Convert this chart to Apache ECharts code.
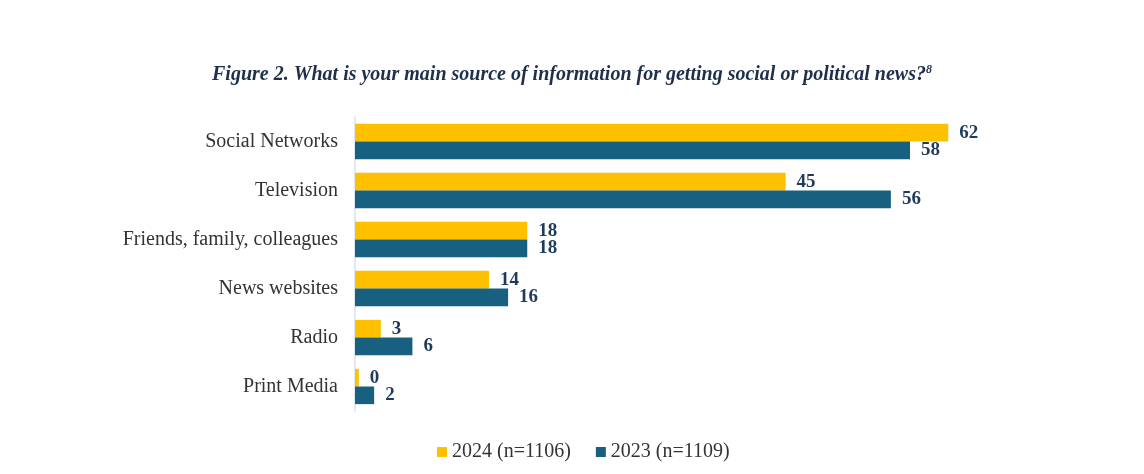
<!DOCTYPE html>
<html>
<head>
<meta charset="utf-8">
<script src="https://cdn.jsdelivr.net/npm/echarts@6/dist/echarts.min.js"></script>
<style>
html,body{margin:0;padding:0;background:#fff;}
#chart{width:1144px;height:474px;}
</style>
</head>
<body>
<div id="chart"></div>
<script>
const categories = ['Social Networks', 'Television', 'Friends, family, colleagues', 'News websites', 'Radio', 'Print Media'];
const series2024 = [62, 45, 18, 14, 2.7, 0.4];
const series2023 = [58, 56, 18, 16, 6, 2];
const seriesNames = ['2024 (n=1106)', '2023 (n=1109)'];
const titleText = 'Figure 2. What is your main source of information for getting social or political news?';
const titleSup = '8';

const serif = '"Liberation Serif", "Times New Roman", serif';
const labelStyle = {
  show: true,
  position: 'right',
  distance: 11,
  fontFamily: serif,
  fontWeight: 'bold',
  fontSize: 19,
  color: '#1f3a5c',
  formatter: p => Math.round(p.value)
};

const chart = echarts.init(document.getElementById('chart'));
chart.setOption({
  animation: false,
  title: {
    text: '{t|' + titleText + '}{s|' + titleSup + '}',
    left: 'center',
    top: 59,
    textStyle: {
      rich: {
        t: { fontFamily: serif, fontStyle: 'italic', fontWeight: 'bold', fontSize: 20, color: '#1f2f4a' },
        s: { fontFamily: serif, fontStyle: 'italic', fontWeight: 'bold', fontSize: 12, color: '#1f2f4a', verticalAlign: 'top', padding: [0, 0, 10, 0] }
      }
    }
  },
  legend: {
    bottom: 7,
    left: 432,
    itemWidth: 10,
    itemHeight: 10,
    itemGap: 25,
    icon: 'rect',
    textStyle: { fontFamily: serif, fontSize: 20, color: '#333' },
    data: seriesNames
  },
  grid: { left: 355, top: 117, width: 622, height: 294, containLabel: false },
  xAxis: {
    type: 'value', min: 0, max: 65,
    show: false
  },
  yAxis: {
    type: 'category',
    data: categories,
    inverse: true,
    axisLine: { show: true, lineStyle: { color: '#d9e2f0', width: 1.5 } },
    axisTick: { show: false },
    axisLabel: { fontFamily: serif, fontSize: 20, color: '#333', margin: 17 }
  },
  series: [
    {
      name: seriesNames[0], type: 'bar', data: series2024,
      barGap: '0%', barCategoryGap: '28%',
      itemStyle: { color: '#FFC000' },
      label: labelStyle
    },
    {
      name: seriesNames[1], type: 'bar', data: series2023,
      barGap: '0%', barCategoryGap: '28%',
      itemStyle: { color: '#17607f' },
      label: labelStyle
    }
  ]
});
</script>
</body>
</html>
